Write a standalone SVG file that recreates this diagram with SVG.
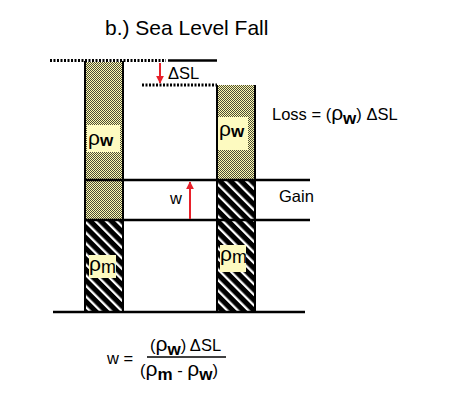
<svg xmlns="http://www.w3.org/2000/svg" width="450" height="400" viewBox="0 0 450 400">
<defs>
<pattern id="stip" patternUnits="userSpaceOnUse" width="2" height="2">
<rect width="2" height="2" fill="#fffbb0"/>
<rect width="1" height="1" fill="#4a4a38"/>
<rect x="1" y="1" width="1" height="1" fill="#4a4a38"/>
</pattern>
<pattern id="hatch" patternUnits="userSpaceOnUse" width="7.5" height="10" patternTransform="rotate(-45)">
<rect width="7.5" height="10" fill="#000"/>
<rect width="2.3" height="10" fill="#fff"/>
</pattern>
<marker id="ah" viewBox="0 0 10 10" refX="9" refY="5" markerWidth="4" markerHeight="4" orient="auto" markerUnits="strokeWidth">
<path d="M0,0 L10,5 L0,10 z" fill="#e8202a"/>
</marker>
</defs>
<style>
text{font-family:"Liberation Sans",Arial,sans-serif;fill:#000}
.t{font-size:21px}
.l{font-size:16.5px}
.rho{font-size:21px}
.sub{font-size:17px;font-weight:bold}
.subm{font-size:18px}
.lab{fill:#fdfac0}
.col{stroke:#000;stroke-width:2}
.ln{stroke:#000;stroke-width:2.5;fill:none}
.dot{stroke:#000;stroke-width:3;stroke-dasharray:2 1.5;fill:none}
.red{stroke:#e8202a;stroke-width:2;fill:none}
</style>
<rect width="450" height="400" fill="#fff"/>
<text class="t" x="105" y="35">b.) Sea Level Fall</text>

<g id="left-column">
<rect x="85" y="62" width="38" height="158" fill="url(#stip)"/>
<rect x="85" y="220" width="38" height="92" fill="url(#hatch)"/>
<line class="col" x1="85" y1="61" x2="85" y2="312"/>
<line class="col" x1="123" y1="61" x2="123" y2="312"/>
<rect class="lab" x="87" y="125" width="33" height="27"/>
<text x="88" y="145"><tspan class="rho">ρ</tspan><tspan class="sub" dy="1">w</tspan></text>
<rect class="lab" x="89" y="255" width="27" height="23"/>
<text x="89" y="271"><tspan class="rho">ρ</tspan><tspan class="subm" dy="2">m</tspan></text>
</g>

<g id="right-column">
<rect x="217" y="85" width="38" height="95" fill="url(#stip)"/>
<rect x="217" y="180" width="38" height="132" fill="url(#hatch)"/>
<line class="col" x1="217" y1="85" x2="217" y2="312"/>
<line class="col" x1="255" y1="85" x2="255" y2="312"/>
<rect class="lab" x="218" y="117" width="30" height="33"/>
<text x="219" y="136"><tspan class="rho">ρ</tspan><tspan class="sub" dy="1">w</tspan></text>
<rect class="lab" x="220" y="245" width="26" height="27"/>
<text x="220" y="261"><tspan class="rho">ρ</tspan><tspan class="subm" dy="2">m</tspan></text>
</g>

<g id="connectors">
<line class="dot" x1="50" y1="60.5" x2="166" y2="60.5"/>
<line class="ln" x1="168" y1="60.5" x2="217" y2="60.5"/>
<line class="dot" x1="142" y1="85" x2="217" y2="85"/>
<line class="ln" x1="85" y1="180" x2="310" y2="180"/>
<line class="ln" x1="85" y1="220" x2="310" y2="220"/>
<line class="ln" x1="53" y1="312" x2="305" y2="312"/>
<line class="red" x1="160" y1="63" x2="160" y2="83" marker-end="url(#ah)"/>
<line class="red" x1="190" y1="219" x2="190" y2="182" marker-end="url(#ah)"/>
</g>

<text class="l" x="168" y="79">ΔSL</text>
<text class="l" x="272" y="120">Loss = (<tspan class="rho">ρ</tspan><tspan class="sub" dy="4">w</tspan><tspan dy="-4">) ΔSL</tspan></text>
<text class="l" x="279" y="202">Gain</text>
<text class="l" x="170" y="204">w</text>

<g id="formula">
<text class="l" x="107" y="364">w =</text>
<text class="l" x="150" y="351">(<tspan class="rho">ρ</tspan><tspan class="sub" dy="4">w</tspan><tspan dy="-4">) ΔSL</tspan></text>
<line stroke="#000" stroke-width="1.5" x1="147" y1="357" x2="226" y2="357"/>
<text class="l" x="140" y="376">(<tspan class="rho">ρ</tspan><tspan class="sub" dy="4">m</tspan><tspan dy="-4"> - </tspan><tspan class="rho">ρ</tspan><tspan class="sub" dy="4">w</tspan><tspan dy="-4">)</tspan></text>
</g>
</svg>
